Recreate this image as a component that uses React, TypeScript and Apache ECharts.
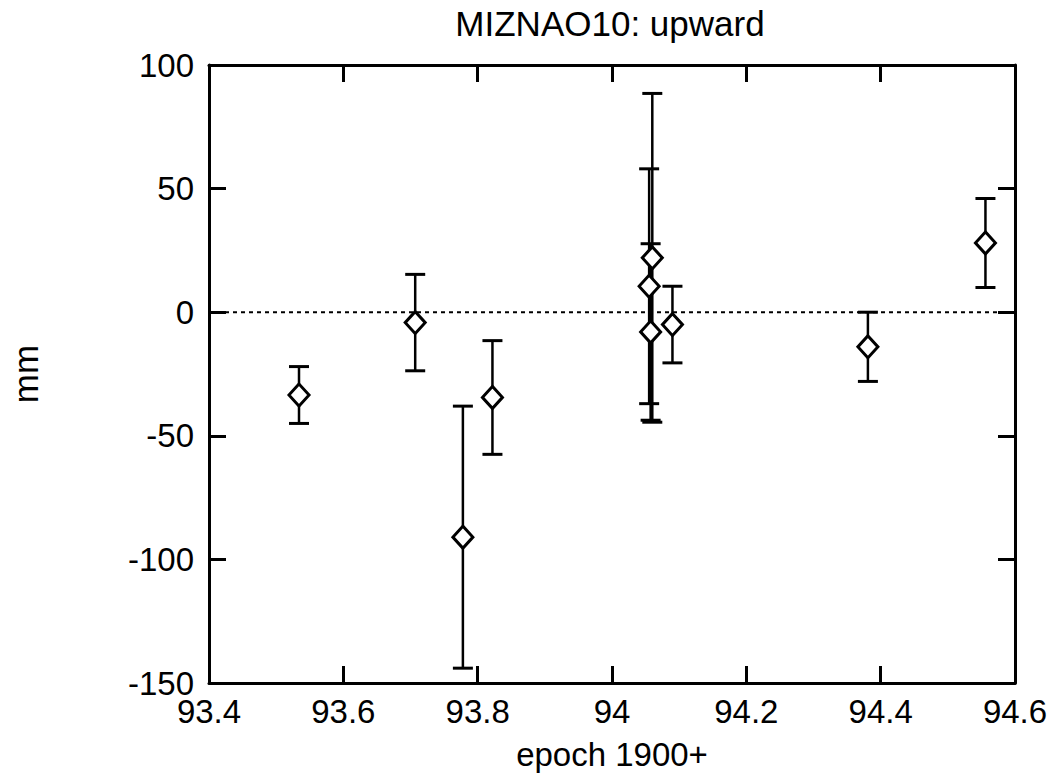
import React, { useEffect, useRef } from "react";
import * as echarts from "echarts";

const epochs = [93.534, 93.707, 93.778, 93.822, 94.0553, 94.0575, 94.06, 94.09, 94.381, 94.556];
const values = [-33.5, -4.2, -91, -34.5, 10.5, -8, 22, -5, -14, 28];
const errors = [11.5, 19.5, 53, 23, 47.5, 35.7, 66.5, 15.5, 14, 18];

const xTicks = { min: 93.4, max: 94.6, interval: 0.2 };
const yTicks = { min: -150, max: 100, interval: 50 };

const titleText = "MIZNAO10: upward";
const xName = "epoch 1900+";
const yName = "mm";

const FONT = "'Liberation Sans', Arial, Helvetica, sans-serif";

export default function App() {
  const ref = useRef<HTMLDivElement>(null);
  useEffect(() => {
    if (!ref.current) return;
    const chart = echarts.init(ref.current, undefined, { renderer: "svg" });
    const points = epochs.map((x, i) => [x, values[i]]);
    const bars = epochs.map((x, i) => [x, values[i] - errors[i], values[i] + errors[i]]);
    const axisLine = { show: true, onZero: false, lineStyle: { color: "#000", width: 3 } };
    const tick = { show: true, inside: true, length: 17, lineStyle: { color: "#000", width: 3 } };
    chart.setOption({
      animation: false,
      backgroundColor: "#fff",
      title: {
        text: titleText,
        left: 605,
        top: 1,
        textAlign: "center",
        textStyle: { fontFamily: FONT, fontSize: 35, fontWeight: "normal", color: "#000" },
      },
      grid: { left: 202, right: 41, top: 65, bottom: 93 },
      xAxis: [
        {
          type: "value",
          min: xTicks.min,
          max: xTicks.max,
          interval: xTicks.interval,
          position: "bottom",
          name: xName,
          nameLocation: "middle",
          nameGap: 55,
          nameTextStyle: { fontFamily: FONT, fontSize: 33, color: "#000" },
          axisLine,
          axisTick: tick,
          splitLine: { show: false },
          axisLabel: {
            fontFamily: FONT,
            fontSize: 33,
            color: "#000",
            margin: 12,
            formatter: (v: number) => String(Number(v.toFixed(1))),
          },
        },
        {
          type: "value",
          min: xTicks.min,
          max: xTicks.max,
          interval: xTicks.interval,
          position: "top",
          axisLine,
          axisTick: tick,
          splitLine: { show: false },
          axisLabel: { show: false },
        },
      ],
      yAxis: [
        {
          type: "value",
          min: yTicks.min,
          max: yTicks.max,
          interval: yTicks.interval,
          position: "left",
          name: yName,
          nameLocation: "middle",
          nameRotate: 90,
          nameGap: 166,
          nameTextStyle: { fontFamily: FONT, fontSize: 35, color: "#000" },
          axisLine,
          axisTick: tick,
          splitLine: { show: false },
          axisLabel: { fontFamily: FONT, fontSize: 33, color: "#000", margin: 15 },
        },
        {
          type: "value",
          min: yTicks.min,
          max: yTicks.max,
          interval: yTicks.interval,
          position: "right",
          axisLine,
          axisTick: tick,
          splitLine: { show: false },
          axisLabel: { show: false },
        },
      ],
      series: [
        {
          type: "line",
          data: [[xTicks.min, 0], [xTicks.max, 0]],
          symbol: "none",
          lineStyle: { color: "#000", width: 2, type: [4, 4] },
          silent: true,
          z: 1,
        },
        {
          type: "custom",
          data: bars,
          z: 2,
          renderItem: (params: any, api: any) => {
            const x = api.value(0);
            const lo = api.coord([x, api.value(1)]);
            const hi = api.coord([x, api.value(2)]);
            const hw = 10;
            const style = { stroke: "#000", lineWidth: 2.5 };
            const capStyle = { stroke: "#000", lineWidth: 3 };
            return {
              type: "group",
              children: [
                { type: "line", shape: { x1: lo[0], y1: lo[1], x2: hi[0], y2: hi[1] }, style },
                { type: "line", shape: { x1: lo[0] - hw, y1: lo[1], x2: lo[0] + hw, y2: lo[1] }, style: capStyle },
                { type: "line", shape: { x1: hi[0] - hw, y1: hi[1], x2: hi[0] + hw, y2: hi[1] }, style: capStyle },
              ],
            };
          },
        },
        {
          type: "scatter",
          data: points,
          symbol: "diamond",
          symbolSize: [20, 22],
          z: 3,
          itemStyle: { color: "#fff", borderColor: "#000", borderWidth: 3, opacity: 1 },
        },
      ],
    });
    return () => chart.dispose();
  }, []);
  return (
    <div
      ref={ref}
      style={{ position: "fixed", left: 0, top: 0, width: 1056, height: 776, background: "#fff" }}
    />
  );
}
